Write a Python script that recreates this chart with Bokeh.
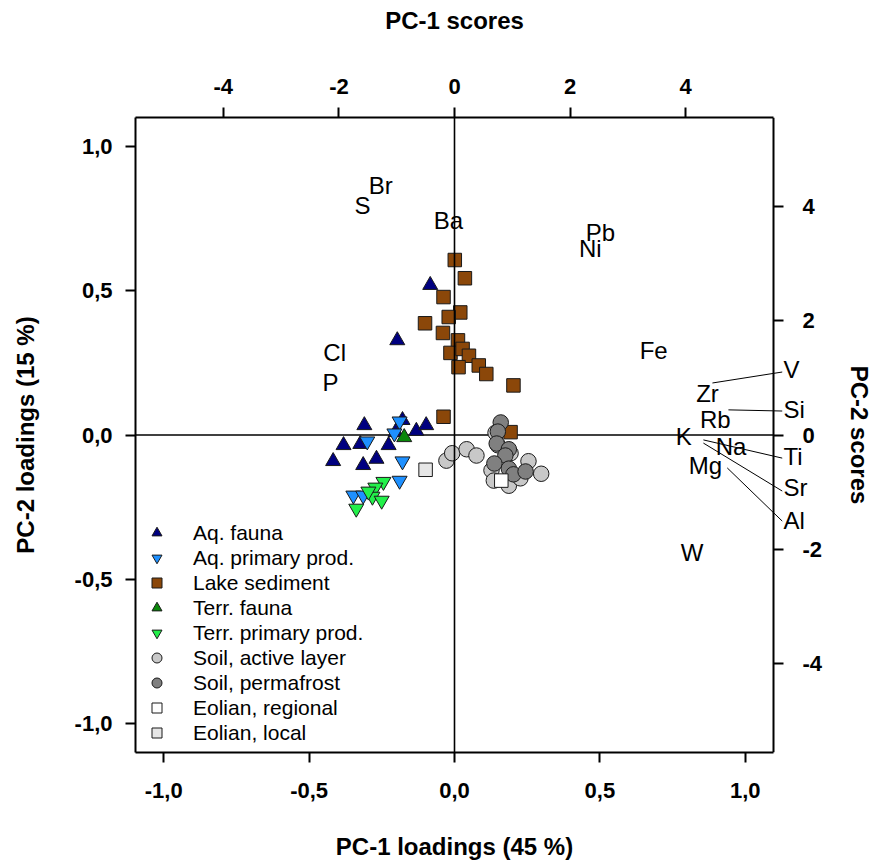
from bokeh.plotting import figure
from bokeh.models import (Range1d, LinearAxis, FixedTicker, ColumnDataSource,
                          LabelSet, Label, Arrow, Span, Legend, LegendItem)
from bokeh.core.properties import value
from bokeh.embed import file_html
from bokeh.resources import INLINE

# ---------------- axis ticks ----------------
load_ticks = [-1.0, -0.5, 0.0, 0.5, 1.0]
load_tick_labels = ["-1,0", "-0,5", "0,0", "0,5", "1,0"]
score_ticks = [-4, -2, 0, 2, 4]
score_tick_labels = ["-4", "-2", "0", "2", "4"]

# ---------------- sample scores (PC-1, PC-2) ----------------
aq_fauna_x = [-0.42, -0.99, -1.56, -0.90, -1.92, -1.63, -2.10, -1.58, -1.35, -1.14, -1.02, -0.66, -0.49]
aq_fauna_y = [2.63, 1.66, 0.17, 0.26, -0.18, -0.16, -0.46, -0.53, -0.42, -0.18, 0.05, 0.07, 0.17]

aq_prim_x = [-0.95, -1.04, -1.51, -0.90, -0.95, -1.75, -1.58]
aq_prim_y = [0.24, 0.03, -0.11, -0.46, -0.80, -1.06, -1.06]

lake_x = [0.005, 0.18, -0.19, 0.10, -0.10, -0.51, -0.20, 0.06, -0.07, 0.14, 0.25, 0.42, 0.07, 0.55, 1.02, -0.19, 0.97]
lake_y = [3.07, 2.75, 2.42, 2.15, 2.07, 1.96, 1.79, 1.66, 1.44, 1.51, 1.39, 1.22, 1.19, 1.07, 0.87, 0.32, 0.05]

terr_fauna_x = [-0.87]
terr_fauna_y = [-0.04]

terr_prim_x = [-1.23, -1.37, -1.42, -1.26, -1.70, -1.49]
terr_prim_y = [-0.82, -0.92, -1.08, -1.15, -1.29, -0.99]

soil_act_x = [-0.14, -0.04, 0.21, 0.38, 0.64, 0.68, 0.94, 1.14, 1.28, 1.50, 0.97, 0.71, 0.75]
soil_act_y = [-0.45, -0.32, -0.25, -0.36, -0.62, -0.80, -0.89, -0.76, -0.46, -0.68, -0.32, 0.04, -0.18]

soil_perm_x = [0.80, 0.75, 0.73, 0.94, 0.88, 0.69, 0.94, 1.02, 1.23]
soil_perm_y = [0.22, 0.06, -0.15, -0.25, -0.36, -0.50, -0.59, -0.69, -0.64]

eol_reg_x = [0.81]
eol_reg_y = [-0.80]

eol_loc_x = [-0.50]
eol_loc_y = [-0.61]

# ---------------- element loadings (labels) ----------------
elem_names = ["S", "Br", "Ba", "Pb", "Ni", "Fe", "Cl", "P", "W", "Zr", "Rb", "K", "Na", "Mg"]
elem_x = [-0.316, -0.254, -0.021, 0.502, 0.467, 0.685, -0.412, -0.426, 0.817, 0.870, 0.897, 0.788, 0.951, 0.863]
elem_y = [0.796, 0.865, 0.744, 0.702, 0.647, 0.292, 0.287, 0.183, -0.408, 0.144, 0.052, -0.006, -0.040, -0.104]

side_names = ["V", "Si", "Ti", "Sr", "Al"]
side_x = [1.131, 1.131, 1.131, 1.131, 1.131]
side_y = [0.225, 0.087, -0.076, -0.183, -0.297]
lead_x0 = [0.887, 0.942, 0.856, 0.856, 0.938]
lead_y0 = [0.180, 0.087, -0.017, -0.028, -0.114]
lead_x1 = [1.127, 1.127, 1.127, 1.127, 1.127]
lead_y1 = [0.218, 0.083, -0.080, -0.194, -0.298]

# axis titles
title_top = "PC-1 scores"
title_bottom = "PC-1 loadings (45 %)"
title_left = "PC-2 loadings (15 %)"
title_right = "PC-2 scores"

# axis limits of the drawn box
load_lim_x, load_lim_y = 1.097, 1.099
score_lim_x, score_lim_y = 5.52, 5.57

FONT = "Liberation Sans"

# the plotting frame runs on to the right edge of the canvas so that the
# element names beside the right axis are not clipped; the box is drawn by the axes
W, H = 874, 862
LEFT, TOP, BOTTOM = 135, 117, 110
BOX_W = 638
FRAME_W = W - LEFT
ext = FRAME_W / BOX_W

p = figure(width=W, height=H, output_backend="svg", toolbar_location=None,
           x_range=Range1d(-load_lim_x, -load_lim_x + 2 * load_lim_x * ext),
           y_range=Range1d(-load_lim_y, load_lim_y),
           x_axis_location=None, y_axis_location=None,
           min_border_left=LEFT, min_border_right=0, min_border_top=TOP, min_border_bottom=BOTTOM)
p.extra_x_ranges = {"xs": Range1d(-score_lim_x, -score_lim_x + 2 * score_lim_x * ext)}
p.extra_y_ranges = {"ys": Range1d(-score_lim_y, score_lim_y)}
p.xgrid.visible = False
p.ygrid.visible = False
p.outline_line_alpha = 0
p.background_fill_color = "white"
p.border_fill_color = "white"


def style_axis(ax, ticks, labels, label_standoff, title_standoff):
    ax.ticker = FixedTicker(ticks=ticks)
    ax.major_label_overrides = {t: l for t, l in zip(ticks, labels)}
    ax.axis_line_width = 2
    ax.axis_line_color = "black"
    ax.major_tick_line_width = 2
    ax.major_tick_line_color = "black"
    ax.major_tick_out = 10
    ax.major_tick_in = 0
    ax.minor_tick_out = 0
    ax.minor_tick_in = 0
    ax.major_label_text_font = FONT
    ax.major_label_text_font_style = "bold"
    ax.major_label_text_font_size = "22px"
    ax.major_label_text_color = "black"
    ax.major_label_standoff = label_standoff
    ax.axis_label_text_font = FONT
    ax.axis_label_text_font_style = "bold"
    ax.axis_label_text_font_size = "24px"
    ax.axis_label_text_color = "black"
    ax.axis_label_standoff = title_standoff


ax_b = LinearAxis(bounds=(-load_lim_x, load_lim_x))
style_axis(ax_b, load_ticks, load_tick_labels, 20, 32)
p.add_layout(ax_b, "below")

ax_l = LinearAxis(axis_label=title_left)
style_axis(ax_l, load_ticks, load_tick_labels, 13, 33)
p.add_layout(ax_l, "left")

ax_t = LinearAxis(x_range_name="xs", bounds=(-score_lim_x, score_lim_x))
style_axis(ax_t, score_ticks, score_tick_labels, 14, 42)
p.add_layout(ax_t, "above")

ax_r = LinearAxis(axis_label=title_right, y_range_name="ys", fixed_location=load_lim_x)
style_axis(ax_r, score_ticks, score_tick_labels, 19, 21)
p.add_layout(ax_r, "right")

# horizontal axis titles, centred on the drawn box (x = 0)
title_kw = dict(x=0, text_align="center", text_baseline="middle", text_font=FONT,
                text_font_style="bold", text_font_size="24px", text_color="black")
p.add_layout(Label(y=1.436, text=title_top, **title_kw), "above")
p.add_layout(Label(y=-1.426, text=title_bottom, **title_kw), "below")

# zero reference lines
p.add_layout(Span(location=0, dimension="height", line_color="black", line_width=1.6))
p.segment(x0=[-load_lim_x], y0=[0], x1=[load_lim_x], y1=[0], line_color="black", line_width=1.6)

OUT = "#1a1a1a"
kw = dict(x_range_name="xs", y_range_name="ys", line_color=OUT, line_width=1)

r_lake = p.scatter(lake_x, lake_y, marker="square", size=13.5, fill_color="#8B4709", **kw)
r_aqf = p.scatter(aq_fauna_x, aq_fauna_y, marker="triangle", size=15, fill_color="#000080", **kw)
r_aqp = p.scatter(aq_prim_x, aq_prim_y, marker="inverted_triangle", size=15, fill_color="#1E90FF", **kw)
r_tf = p.scatter(terr_fauna_x, terr_fauna_y, marker="triangle", size=15, fill_color="#0A870A", **kw)
r_tp = p.scatter(terr_prim_x, terr_prim_y, marker="inverted_triangle", size=15, fill_color="#22F04A", **kw)
r_sa = p.scatter(soil_act_x, soil_act_y, marker="circle", size=15.5, fill_color="#C8C8C8", **kw)
r_sp = p.scatter(soil_perm_x, soil_perm_y, marker="circle", size=15.5, fill_color="#808080", **kw)
r_er = p.scatter(eol_reg_x, eol_reg_y, marker="square", size=13.5, fill_color="#FFFFFF", **kw)
r_el = p.scatter(eol_loc_x, eol_loc_y, marker="square", size=13.5, fill_color="#E6E6E6", **kw)

# element labels
src_e = ColumnDataSource(dict(x=elem_x, y=elem_y, t=elem_names))
p.add_layout(LabelSet(x="x", y="y", text="t", source=src_e, text_align="center",
                      text_baseline="middle", text_font=value(FONT), text_font_size="24px",
                      text_color="black"))

src_l = ColumnDataSource(dict(x0=lead_x0, y0=lead_y0, x1=lead_x1, y1=lead_y1))
p.add_layout(Arrow(end=None, start=None, x_start="x0", y_start="y0", x_end="x1", y_end="y1",
                   source=src_l, line_color="black", line_width=1))

src_s = ColumnDataSource(dict(x=side_x, y=side_y, t=side_names))
p.add_layout(LabelSet(x="x", y="y", text="t", source=src_s, text_align="left",
                      text_baseline="middle", text_font=value(FONT), text_font_size="24px",
                      text_color="black"))

legend = Legend(items=[
    LegendItem(label="Aq. fauna", renderers=[r_aqf]),
    LegendItem(label="Aq. primary prod.", renderers=[r_aqp]),
    LegendItem(label="Lake sediment", renderers=[r_lake]),
    LegendItem(label="Terr. fauna", renderers=[r_tf]),
    LegendItem(label="Terr. primary prod.", renderers=[r_tp]),
    LegendItem(label="Soil, active layer", renderers=[r_sa]),
    LegendItem(label="Soil, permafrost", renderers=[r_sp]),
    LegendItem(label="Eolian, regional", renderers=[r_er]),
    LegendItem(label="Eolian, local", renderers=[r_el]),
], location=(9, 7), glyph_width=25, glyph_height=25, spacing=0, padding=0, margin=0,
    label_standoff=24, label_text_font=FONT, label_text_font_size="21px",
    label_text_color="black", background_fill_alpha=0, border_line_alpha=0)
p.add_layout(legend)

open("out.html", "w").write(file_html(p, INLINE))
